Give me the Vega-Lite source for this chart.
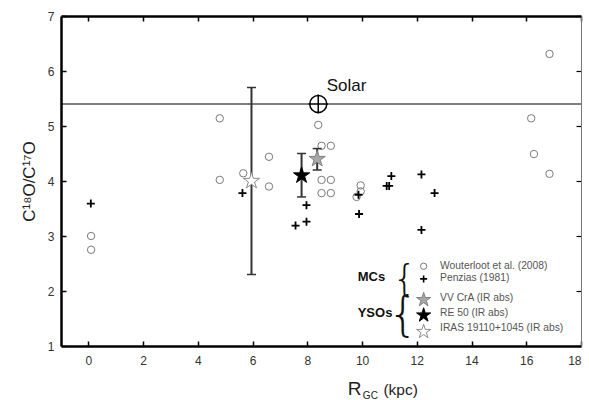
{
  "$schema": "https://vega.github.io/schema/vega-lite/v6.json",
  "width": 520,
  "height": 330,
  "autosize": {"type": "none"},
  "padding": {"left": 61, "top": 16, "right": 8, "bottom": 54},
  "config": {"view": {"stroke": null}, "font": "Liberation Sans", "axis": {"grid": false}},
  "datasets": {
    "wouterloot": [
      {"x": 0.1, "y": 3.0}, {"x": 0.1, "y": 2.75}, {"x": 4.8, "y": 5.14}, {"x": 4.8, "y": 4.02},
      {"x": 5.66, "y": 4.14}, {"x": 6.6, "y": 4.44}, {"x": 6.6, "y": 3.9}, {"x": 8.4, "y": 5.02},
      {"x": 8.52, "y": 4.64}, {"x": 8.86, "y": 4.64}, {"x": 8.52, "y": 4.02}, {"x": 8.86, "y": 4.02},
      {"x": 8.52, "y": 3.78}, {"x": 8.86, "y": 3.78}, {"x": 9.95, "y": 3.92}, {"x": 9.95, "y": 3.81},
      {"x": 9.8, "y": 3.71}, {"x": 16.18, "y": 5.14}, {"x": 16.28, "y": 4.49}, {"x": 16.85, "y": 4.13},
      {"x": 16.85, "y": 6.31}
    ],
    "penzias": [
      {"x": 0.09, "y": 3.59}, {"x": 5.63, "y": 3.78}, {"x": 7.57, "y": 3.19}, {"x": 7.97, "y": 3.26},
      {"x": 7.97, "y": 3.56}, {"x": 9.87, "y": 3.75}, {"x": 9.89, "y": 3.4}, {"x": 10.9, "y": 3.91},
      {"x": 10.99, "y": 3.91}, {"x": 11.07, "y": 4.09}, {"x": 12.17, "y": 4.12}, {"x": 12.65, "y": 3.78},
      {"x": 12.17, "y": 3.11}
    ],
    "ysos": [
      {"name": "VV CrA", "x": 8.36, "y": 4.4, "lo": 4.2, "hi": 4.59},
      {"name": "RE 50", "x": 7.79, "y": 4.1, "lo": 3.71, "hi": 4.5},
      {"name": "IRAS 19110+1045", "x": 5.96, "y": 4.0, "lo": 2.3, "hi": 5.7}
    ],
    "legendStars": [
      {"name": "VV CrA", "x": 12.25, "y": 1.84},
      {"name": "RE 50", "x": 12.25, "y": 1.56},
      {"name": "IRAS 19110+1045", "x": 12.25, "y": 1.26}
    ],
    "legendText": [
      {"label": "Wouterloot et al. (2008)", "x": 12.85, "y": 2.45},
      {"label": "Penzias (1981)", "x": 12.85, "y": 2.23},
      {"label": "VV CrA (IR abs)", "x": 12.85, "y": 1.87},
      {"label": "RE 50 (IR abs)", "x": 12.85, "y": 1.6},
      {"label": "IRAS 19110+1045 (IR abs)", "x": 12.85, "y": 1.32}
    ]
  },
  "layer": [
    {
      "data": {"values": [{"y": 5.4}]},
      "mark": {"type": "rule", "color": "black", "strokeWidth": 1.2},
      "encoding": {"y": {"field": "y", "type": "quantitative", "scale": {"domain": [1, 7], "nice": false, "zero": false}, "axis": null}}
    },
    {
      "data": {"name": "wouterloot"},
      "mark": {"type": "point", "shape": "circle", "filled": false, "size": 55, "stroke": "#7a7a7a", "strokeWidth": 1, "opacity": 1},
      "encoding": {
        "x": {"field": "x", "type": "quantitative", "scale": {"domain": [-1, 18], "nice": false, "zero": false},
          "axis": {"orient": "bottom", "values": [0, 2, 4, 6, 8, 10, 12, 14, 16, 18], "title": null, "tickSize": -5, "tickColor": "black", "tickWidth": 1.5,
            "domainColor": "black", "domainWidth": 2.5, "labelPadding": 14, "labelFontSize": 12, "labelColor": "#333", "labelFont": "Liberation Sans"}},
        "y": {"field": "y", "type": "quantitative", "scale": {"domain": [1, 7], "nice": false, "zero": false},
          "axis": {"orient": "left", "values": [1, 2, 3, 4, 5, 6, 7], "title": "C¹⁸O/C¹⁷O", "titleFontSize": 17, "titleFontWeight": "normal", "titleColor": "#222",
            "titleFont": "Liberation Sans", "titlePadding": 9, "tickSize": -5, "tickColor": "black", "tickWidth": 1.5,
            "domainColor": "black", "domainWidth": 2.5, "labelPadding": 12, "labelFontSize": 12, "labelColor": "#333", "labelFont": "Liberation Sans"}}
      }
    },
    {
      "data": {"name": "penzias"},
      "mark": {"type": "point", "shape": "M-1,0L1,0M0,-1L0,1", "filled": false, "size": 64, "stroke": "black", "strokeWidth": 1.8, "opacity": 1},
      "encoding": {
        "x": {"field": "x", "type": "quantitative", "scale": {"domain": [-1, 18], "nice": false, "zero": false},
          "axis": {"orient": "top", "values": [0, 2, 4, 6, 8, 10, 12, 14, 16, 18], "title": null, "labels": false, "tickSize": -5, "tickColor": "black", "tickWidth": 1.5,
            "domainColor": "black", "domainWidth": 2.5}},
        "y": {"field": "y", "type": "quantitative", "scale": {"domain": [1, 7], "nice": false, "zero": false},
          "axis": {"orient": "right", "values": [1, 2, 3, 4, 5, 6, 7], "title": null, "labels": false, "tickSize": -5, "tickColor": "black", "tickWidth": 1.2,
            "domainColor": "#777", "domainWidth": 1}}
      }
    },
    {
      "data": {"name": "ysos"},
      "mark": {"type": "rule", "color": "#333", "strokeWidth": 2},
      "encoding": {
        "x": {"field": "x", "type": "quantitative", "scale": {"domain": [-1, 18], "nice": false, "zero": false}, "axis": null},
        "y": {"field": "lo", "type": "quantitative", "scale": {"domain": [1, 7], "nice": false, "zero": false}, "axis": null},
        "y2": {"field": "hi"}
      }
    },
    {
      "data": {"name": "ysos"},
      "mark": {"type": "tick", "orient": "horizontal", "color": "#333", "size": 9, "thickness": 1.5, "opacity": 1},
      "encoding": {
        "x": {"field": "x", "type": "quantitative", "scale": {"domain": [-1, 18], "nice": false, "zero": false}, "axis": null},
        "y": {"field": "lo", "type": "quantitative", "scale": {"domain": [1, 7], "nice": false, "zero": false}, "axis": null}
      }
    },
    {
      "data": {"name": "ysos"},
      "mark": {"type": "tick", "orient": "horizontal", "color": "#333", "size": 9, "thickness": 1.5, "opacity": 1},
      "encoding": {
        "x": {"field": "x", "type": "quantitative", "scale": {"domain": [-1, 18], "nice": false, "zero": false}, "axis": null},
        "y": {"field": "hi", "type": "quantitative", "scale": {"domain": [1, 7], "nice": false, "zero": false}, "axis": null}
      }
    },
    {
      "data": {"name": "ysos"},
      "mark": {"type": "point", "shape": "M0,-1L0.2245,-0.309L0.951,-0.309L0.363,0.118L0.588,0.809L0,0.382L-0.588,0.809L-0.363,0.118L-0.951,-0.309L-0.2245,-0.309Z", "filled": true, "size": 290, "strokeWidth": 1, "opacity": 1},
      "encoding": {
        "x": {"field": "x", "type": "quantitative", "scale": {"domain": [-1, 18], "nice": false, "zero": false}, "axis": null},
        "y": {"field": "y", "type": "quantitative", "scale": {"domain": [1, 7], "nice": false, "zero": false}, "axis": null},
        "fill": {"field": "name", "type": "nominal", "scale": {"domain": ["VV CrA", "RE 50", "IRAS 19110+1045"], "range": ["#a8a8a8", "#000000", "#ffffff"]}, "legend": null},
        "stroke": {"field": "name", "type": "nominal", "scale": {"domain": ["VV CrA", "RE 50", "IRAS 19110+1045"], "range": ["#808080", "#000000", "#8a8a8a"]}, "legend": null}
      }
    },
    {
      "data": {"values": [{"x": 8.4, "y": 5.4}]},
      "mark": {"type": "point", "shape": "circle", "filled": true, "fill": "white", "stroke": "black", "strokeWidth": 1.5, "size": 290, "opacity": 1},
      "encoding": {
        "x": {"field": "x", "type": "quantitative", "scale": {"domain": [-1, 18], "nice": false, "zero": false}, "axis": null},
        "y": {"field": "y", "type": "quantitative", "scale": {"domain": [1, 7], "nice": false, "zero": false}, "axis": null}
      }
    },
    {
      "data": {"values": [{"x": 8.4, "y": 5.4}]},
      "mark": {"type": "point", "shape": "M-1,0L1,0M0,-1L0,1", "filled": false, "stroke": "black", "strokeWidth": 1.5, "size": 370, "opacity": 1},
      "encoding": {
        "x": {"field": "x", "type": "quantitative", "scale": {"domain": [-1, 18], "nice": false, "zero": false}, "axis": null},
        "y": {"field": "y", "type": "quantitative", "scale": {"domain": [1, 7], "nice": false, "zero": false}, "axis": null}
      }
    },
    {
      "data": {"values": [{"x": 8.71, "y": 5.64, "label": "Solar"}]},
      "mark": {"type": "text", "align": "left", "baseline": "alphabetic", "fontSize": 17, "color": "#111", "font": "Liberation Sans"},
      "encoding": {
        "x": {"field": "x", "type": "quantitative", "scale": {"domain": [-1, 18], "nice": false, "zero": false}, "axis": null},
        "y": {"field": "y", "type": "quantitative", "scale": {"domain": [1, 7], "nice": false, "zero": false}, "axis": null},
        "text": {"field": "label"}
      }
    },
    {
      "data": {"values": [{"x": 12.25, "y": 2.45}]},
      "mark": {"type": "point", "shape": "circle", "filled": false, "size": 40, "stroke": "#7a7a7a", "strokeWidth": 1, "opacity": 1},
      "encoding": {
        "x": {"field": "x", "type": "quantitative", "scale": {"domain": [-1, 18], "nice": false, "zero": false}, "axis": null},
        "y": {"field": "y", "type": "quantitative", "scale": {"domain": [1, 7], "nice": false, "zero": false}, "axis": null}
      }
    },
    {
      "data": {"values": [{"x": 12.25, "y": 2.22}]},
      "mark": {"type": "point", "shape": "M-1,0L1,0M0,-1L0,1", "filled": false, "size": 49, "stroke": "black", "strokeWidth": 1.6, "opacity": 1},
      "encoding": {
        "x": {"field": "x", "type": "quantitative", "scale": {"domain": [-1, 18], "nice": false, "zero": false}, "axis": null},
        "y": {"field": "y", "type": "quantitative", "scale": {"domain": [1, 7], "nice": false, "zero": false}, "axis": null}
      }
    },
    {
      "data": {"name": "legendStars"},
      "mark": {"type": "point", "shape": "M0,-1L0.2245,-0.309L0.951,-0.309L0.363,0.118L0.588,0.809L0,0.382L-0.588,0.809L-0.363,0.118L-0.951,-0.309L-0.2245,-0.309Z", "filled": true, "size": 220, "strokeWidth": 1, "opacity": 1},
      "encoding": {
        "x": {"field": "x", "type": "quantitative", "scale": {"domain": [-1, 18], "nice": false, "zero": false}, "axis": null},
        "y": {"field": "y", "type": "quantitative", "scale": {"domain": [1, 7], "nice": false, "zero": false}, "axis": null},
        "fill": {"field": "name", "type": "nominal", "scale": {"domain": ["VV CrA", "RE 50", "IRAS 19110+1045"], "range": ["#a8a8a8", "#000000", "#ffffff"]}, "legend": null},
        "stroke": {"field": "name", "type": "nominal", "scale": {"domain": ["VV CrA", "RE 50", "IRAS 19110+1045"], "range": ["#808080", "#000000", "#8a8a8a"]}, "legend": null}
      }
    },
    {
      "data": {"name": "legendText"},
      "mark": {"type": "text", "align": "left", "baseline": "middle", "fontSize": 10.3, "color": "#555", "font": "Liberation Sans"},
      "encoding": {
        "x": {"field": "x", "type": "quantitative", "scale": {"domain": [-1, 18], "nice": false, "zero": false}, "axis": null},
        "y": {"field": "y", "type": "quantitative", "scale": {"domain": [1, 7], "nice": false, "zero": false}, "axis": null},
        "text": {"field": "label"}
      }
    },
    {
      "data": {"values": [{"x": 9.84, "y": 2.25, "label": "MCs"}, {"x": 9.84, "y": 1.6, "label": "YSOs"}]},
      "mark": {"type": "text", "align": "left", "baseline": "middle", "fontSize": 13, "fontWeight": "bold", "color": "#111", "font": "Liberation Sans"},
      "encoding": {
        "x": {"field": "x", "type": "quantitative", "scale": {"domain": [-1, 18], "nice": false, "zero": false}, "axis": null},
        "y": {"field": "y", "type": "quantitative", "scale": {"domain": [1, 7], "nice": false, "zero": false}, "axis": null},
        "text": {"field": "label"}
      }
    },
    {
      "data": {"values": [{"x": 11.55, "y": 2.2, "label": "{"}]},
      "mark": {"type": "text", "align": "center", "baseline": "middle", "fontSize": 38, "fontWeight": 200, "color": "#111", "font": "DejaVu Sans"},
      "encoding": {
        "x": {"field": "x", "type": "quantitative", "scale": {"domain": [-1, 18], "nice": false, "zero": false}, "axis": null},
        "y": {"field": "y", "type": "quantitative", "scale": {"domain": [1, 7], "nice": false, "zero": false}, "axis": null},
        "text": {"field": "label"}
      }
    },
    {
      "data": {"values": [{"x": 11.5, "y": 1.52, "label": "{"}]},
      "mark": {"type": "text", "align": "center", "baseline": "middle", "fontSize": 48, "fontWeight": 200, "color": "#111", "font": "DejaVu Sans"},
      "encoding": {
        "x": {"field": "x", "type": "quantitative", "scale": {"domain": [-1, 18], "nice": false, "zero": false}, "axis": null},
        "y": {"field": "y", "type": "quantitative", "scale": {"domain": [1, 7], "nice": false, "zero": false}, "axis": null},
        "text": {"field": "label"}
      }
    },
    {
      "data": {"values": [{"x": 9.48, "y": 0.11, "label": "R"}]},
      "mark": {"type": "text", "align": "left", "baseline": "alphabetic", "fontSize": 19, "color": "#222", "font": "Liberation Sans"},
      "encoding": {
        "x": {"field": "x", "type": "quantitative", "scale": {"domain": [-1, 18], "nice": false, "zero": false}, "axis": null},
        "y": {"field": "y", "type": "quantitative", "scale": {"domain": [1, 7], "nice": false, "zero": false}, "axis": null},
        "text": {"field": "label"}
      }
    },
    {
      "data": {"values": [{"x": 10.03, "y": 0.03, "label": "GC"}]},
      "mark": {"type": "text", "align": "left", "baseline": "alphabetic", "fontSize": 10, "color": "#222", "font": "Liberation Sans"},
      "encoding": {
        "x": {"field": "x", "type": "quantitative", "scale": {"domain": [-1, 18], "nice": false, "zero": false}, "axis": null},
        "y": {"field": "y", "type": "quantitative", "scale": {"domain": [1, 7], "nice": false, "zero": false}, "axis": null},
        "text": {"field": "label"}
      }
    },
    {
      "data": {"values": [{"x": 10.78, "y": 0.11, "label": "(kpc)"}]},
      "mark": {"type": "text", "align": "left", "baseline": "alphabetic", "fontSize": 15.5, "color": "#222", "font": "Liberation Sans"},
      "encoding": {
        "x": {"field": "x", "type": "quantitative", "scale": {"domain": [-1, 18], "nice": false, "zero": false}, "axis": null},
        "y": {"field": "y", "type": "quantitative", "scale": {"domain": [1, 7], "nice": false, "zero": false}, "axis": null},
        "text": {"field": "label"}
      }
    }
  ],
  "resolve": {"axis": {"x": "independent", "y": "independent"}}
}
